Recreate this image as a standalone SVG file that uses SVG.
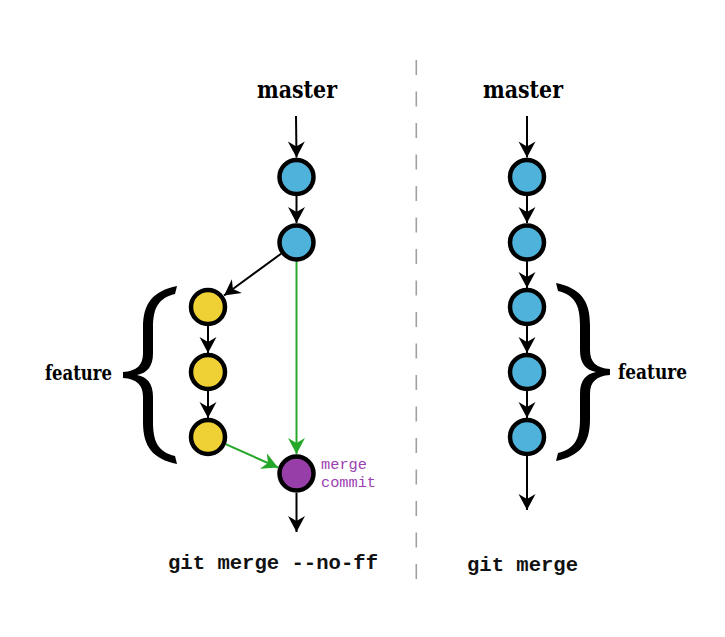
<svg xmlns="http://www.w3.org/2000/svg" width="725" height="637" viewBox="0 0 725 637">
<style>
.blue{fill:#4fb2da;stroke:#000;stroke-width:4.5}
.yellow{fill:#efd136;stroke:#000;stroke-width:4.5}
.purple{fill:#973ea9;stroke:#000;stroke-width:4.5}
.blk{stroke:#000;stroke-width:2;fill:none}
.grn{stroke:#25a82a;stroke-width:2;fill:none}
.lbl{font-family:"DejaVu Serif","Liberation Serif",serif;font-weight:bold;fill:#000}
.code{font-family:"Liberation Mono","DejaVu Sans Mono",monospace;font-weight:bold;fill:#111}
.mc{font-family:"Liberation Mono","DejaVu Sans Mono",monospace;fill:#9c3fb2;font-size:15px}
</style>
<defs>
<marker id="ab" markerUnits="userSpaceOnUse" orient="auto" refX="0" refY="0" markerWidth="20" markerHeight="20" viewBox="-17 -10 18 20" overflow="visible">
<path d="M0,0 L-16,-8.5 L-11,0 L-16,8.5 Z" fill="#000"/>
</marker>
<marker id="ag" markerUnits="userSpaceOnUse" orient="auto" refX="0" refY="0" markerWidth="20" markerHeight="20" viewBox="-17 -10 18 20" overflow="visible">
<path d="M0,0 L-16,-8.5 L-11,0 L-16,8.5 Z" fill="#25a82a"/>
</marker>
<path id="brace" d="M -54 -89 C -30 -84, -20 -72, -20 -47 L -20 -22 C -20 -10, -14 -4, 0 -3 L 0 3 C -14 4, -20 10, -20 22 L -20 47 C -20 72, -30 84, -54 89 L -52 81 C -36 77, -30 68, -30 47 L -30 22 C -30 8, -24 2, -14 0 C -24 -2, -30 -8, -30 -22 L -30 -47 C -30 -68, -36 -77, -52 -81 Z" fill="#000"/>
</defs>
<rect width="725" height="637" fill="#fff"/>
<line x1="416.3" y1="60" x2="416.3" y2="581" stroke="#a0a0a0" stroke-width="1.6" stroke-dasharray="15 16.5"/>
<g id="connectors">
<line class="blk" x1="296" y1="116" x2="296.5" y2="157.5" marker-end="url(#ab)"/>
<line class="blk" x1="296.5" y1="196" x2="296.5" y2="223" marker-end="url(#ab)"/>
<line class="blk" x1="281.1" y1="253.7" x2="224" y2="295.5" marker-end="url(#ab)"/>
<line class="blk" x1="208" y1="326" x2="208" y2="353" marker-end="url(#ab)"/>
<line class="blk" x1="208" y1="391" x2="208" y2="418" marker-end="url(#ab)"/>
<line class="grn" x1="296.5" y1="261" x2="296.5" y2="454" marker-end="url(#ag)"/>
<line class="grn" x1="225.6" y1="444.2" x2="278" y2="467.5" marker-end="url(#ag)"/>
<line class="blk" x1="296.5" y1="493" x2="296.5" y2="532" marker-end="url(#ab)"/>
<line class="blk" x1="527" y1="116" x2="527" y2="157.5" marker-end="url(#ab)"/>
<line class="blk" x1="527" y1="196" x2="527" y2="223" marker-end="url(#ab)"/>
<line class="blk" x1="527" y1="261" x2="527" y2="288" marker-end="url(#ab)"/>
<line class="blk" x1="527" y1="326" x2="527" y2="353" marker-end="url(#ab)"/>
<line class="blk" x1="527" y1="391" x2="527" y2="418" marker-end="url(#ab)"/>
<line class="blk" x1="527" y1="456" x2="527" y2="510" marker-end="url(#ab)"/>
</g>
<g id="left-m1"><circle class="blue" cx="296.5" cy="177" r="17"/></g>
<g id="left-m2"><circle class="blue" cx="296.5" cy="242.5" r="17"/></g>
<g id="left-f1"><circle class="yellow" cx="208" cy="307" r="17"/></g>
<g id="left-f2"><circle class="yellow" cx="208" cy="372" r="17"/></g>
<g id="left-f3"><circle class="yellow" cx="208" cy="437" r="17"/></g>
<g id="left-merge"><circle class="purple" cx="296.5" cy="473.5" r="17"/>
<text class="mc" x="321" y="468.5" textLength="46" lengthAdjust="spacingAndGlyphs">merge</text>
<text class="mc" x="321" y="487" textLength="55" lengthAdjust="spacingAndGlyphs">commit</text></g>
<g id="right-1"><circle class="blue" cx="527" cy="177" r="17"/></g>
<g id="right-2"><circle class="blue" cx="527" cy="242.5" r="17"/></g>
<g id="right-3"><circle class="blue" cx="527" cy="307" r="17"/></g>
<g id="right-4"><circle class="blue" cx="527" cy="372" r="17"/></g>
<g id="right-5"><circle class="blue" cx="527" cy="437" r="17"/></g>
<g id="left-brace"><use href="#brace" transform="translate(123,375) scale(-1,1)"/></g>
<g id="right-brace"><use href="#brace" transform="translate(610,372)"/></g>
<g id="labels">
<text class="lbl" x="297" y="97.5" font-size="25" text-anchor="middle" textLength="80" lengthAdjust="spacingAndGlyphs">master</text>
<text class="lbl" x="523" y="98" font-size="25" text-anchor="middle" textLength="80" lengthAdjust="spacingAndGlyphs">master</text>
<text class="lbl" x="45" y="379.5" font-size="20.5" textLength="67" lengthAdjust="spacingAndGlyphs">feature</text>
<text class="lbl" x="618" y="378.5" font-size="20.5" textLength="69" lengthAdjust="spacingAndGlyphs">feature</text>
<text class="code" x="168" y="568.5" font-size="20" textLength="210" lengthAdjust="spacingAndGlyphs">git merge --no-ff</text>
<text class="code" x="467" y="571" font-size="20" textLength="111" lengthAdjust="spacingAndGlyphs">git merge</text>
</g>
</svg>
